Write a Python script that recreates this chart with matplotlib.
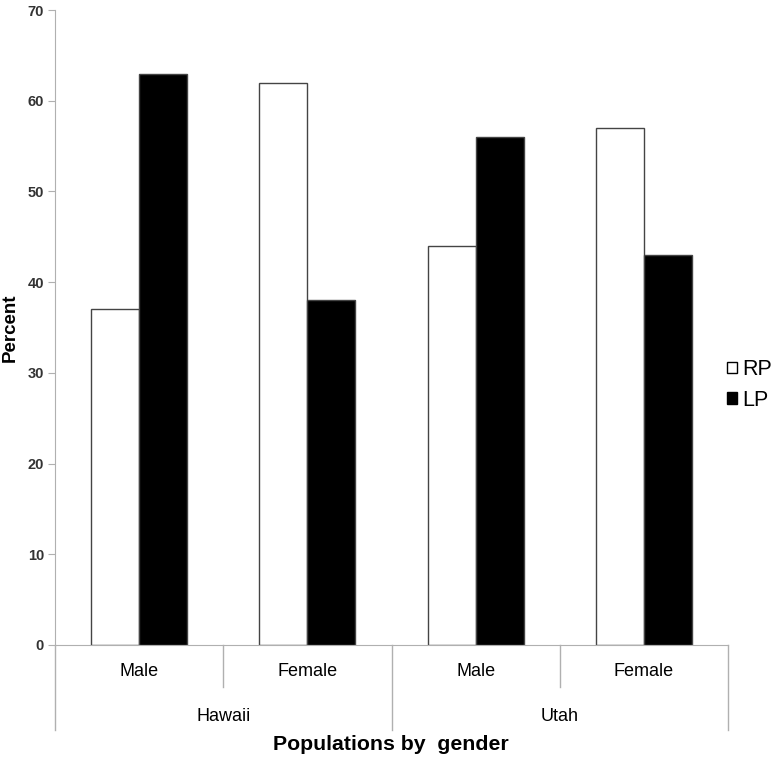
import matplotlib
matplotlib.use("Agg")
import matplotlib.pyplot as plt
from matplotlib.patches import Patch
import numpy as np

plt.rcParams['font.family'] = ['Liberation Sans', 'DejaVu Sans']

groups = ["Hawaii", "Utah"]
genders = ["Male", "Female", "Male", "Female"]
rp = [37, 62, 44, 57]
lp = [63, 38, 56, 43]

fig = plt.figure(figsize=(7.76, 7.64), dpi=100)
ax = fig.add_axes([55/776, 119/764, 673/776, 635/764])

x = np.arange(len(genders))
w = 0.285
ax.bar(x - w/2, rp, w, color="white", edgecolor="#444444", linewidth=1)
ax.bar(x + w/2, lp, w, color="black", edgecolor="#444444", linewidth=1)

ax.set_xlim(-0.5, len(genders) - 0.5)
ax.set_ylim(0, 70)
ax.set_yticks(range(0, 71, 10))
for lab in ax.get_yticklabels():
    lab.set_fontweight("bold")
    lab.set_color("#333333")
    lab.set_fontsize(10.5)
ax.tick_params(axis="y", length=5, color="#b0b0b0", pad=3)
ax.set_xticks([])
for s in ["top", "right"]:
    ax.spines[s].set_visible(False)
for s in ["left", "bottom"]:
    ax.spines[s].set_color("#b0b0b0")

tr = ax.get_xaxis_transform()
# category separators and labels
for i in range(len(genders)):
    ax.text(i, -0.0425, genders[i], transform=tr, ha="center", va="center", fontsize=13)
for b in [0.5, 2.5]:
    ax.plot([b, b], [0, -0.066], transform=tr, color="#b0b0b0", lw=1, clip_on=False)
for b in [-0.5, 1.5, 3.5]:
    ax.plot([b, b], [0, -0.134], transform=tr, color="#b0b0b0", lw=1, clip_on=False)
for j, g in enumerate(groups):
    ax.text(2*j + 0.5, -0.113, g, transform=tr, ha="center", va="center", fontsize=13)

ax.set_ylabel("Percent", fontsize=13.5, fontweight="bold", labelpad=6)
fig.text(391/776, 1 - 745/764, "Populations by  gender", ha="center", va="center",
         fontsize=15.3, fontweight="bold")

handles = [Patch(facecolor="white", edgecolor="black", label="RP"),
           Patch(facecolor="black", edgecolor="black", label="LP")]
fig.legend(handles=handles, loc="center left", bbox_to_anchor=(727/776, 1 - 385/764),
           frameon=False, fontsize=15.5, handlelength=0.45, handleheight=0.45,
           handletextpad=0.25, labelspacing=0.45, borderpad=0, borderaxespad=0)

fig.savefig("out.png", dpi=100)
